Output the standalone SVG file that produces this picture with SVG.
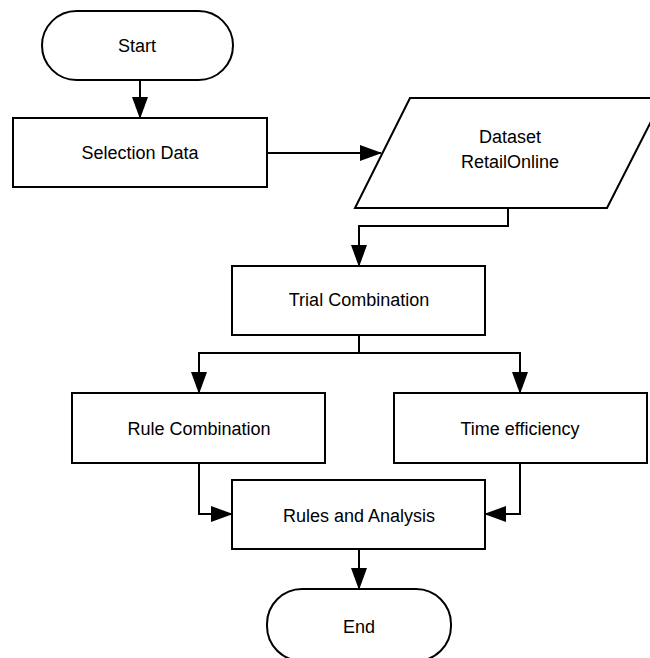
<svg xmlns="http://www.w3.org/2000/svg" width="650" height="658" viewBox="0 0 650 658">
<defs>
<marker id="ah" markerUnits="userSpaceOnUse" markerWidth="22" markerHeight="16" refX="21" refY="8" orient="auto">
<path d="M0,0 L22,8 L0,16 Z" fill="#000"/>
</marker>
<style>
.n{fill:#fff;stroke:#000;stroke-width:2}
.t{font-family:"Liberation Sans",Arial,sans-serif;font-size:18px;fill:#000;text-anchor:middle;dominant-baseline:central}
.c{fill:none;stroke:#000;stroke-width:2;marker-end:url(#ah)}
</style>
</defs>
<rect width="650" height="658" fill="#fff"/>
<g id="connectors">
<path class="c" d="M140,80 L140,118"/>
<path class="c" d="M267,153 L381,153"/>
<path class="c" d="M508,208 L508,226 L359,226 L359,266"/>
<path class="c" d="M359,335 L359,353 L199,353 L199,393"/>
<path class="c" d="M359,353 L520,353 L520,393"/>
<path class="c" d="M199,463 L199,514 L232,514"/>
<path class="c" d="M520,463 L520,514 L485,514"/>
<path class="c" d="M359,549 L359,589"/>
</g>
<g id="start"><rect class="n" x="42" y="11" width="191" height="69" rx="34.5"/><text class="t" x="137" y="46">Start</text></g>
<g id="selection"><rect class="n" x="13" y="118" width="254" height="69"/><text class="t" x="140" y="153">Selection Data</text></g>
<g id="dataset"><polygon class="n" points="410,98 663,98 607,208 355,208"/><text class="t" x="510" y="137">Dataset</text><text class="t" x="510" y="162">RetailOnline</text></g>
<g id="trial"><rect class="n" x="232" y="266" width="253" height="69"/><text class="t" x="359" y="300">Trial Combination</text></g>
<g id="rule"><rect class="n" x="72" y="393" width="253" height="70"/><text class="t" x="199" y="429">Rule Combination</text></g>
<g id="time"><rect class="n" x="394" y="393" width="253" height="70"/><text class="t" x="520" y="429">Time efficiency</text></g>
<g id="rules"><rect class="n" x="232" y="480" width="253" height="69"/><text class="t" x="359" y="516">Rules and Analysis</text></g>
<g id="end"><rect class="n" x="267" y="589" width="184" height="72" rx="35"/><text class="t" x="359" y="627">End</text></g>
</svg>
